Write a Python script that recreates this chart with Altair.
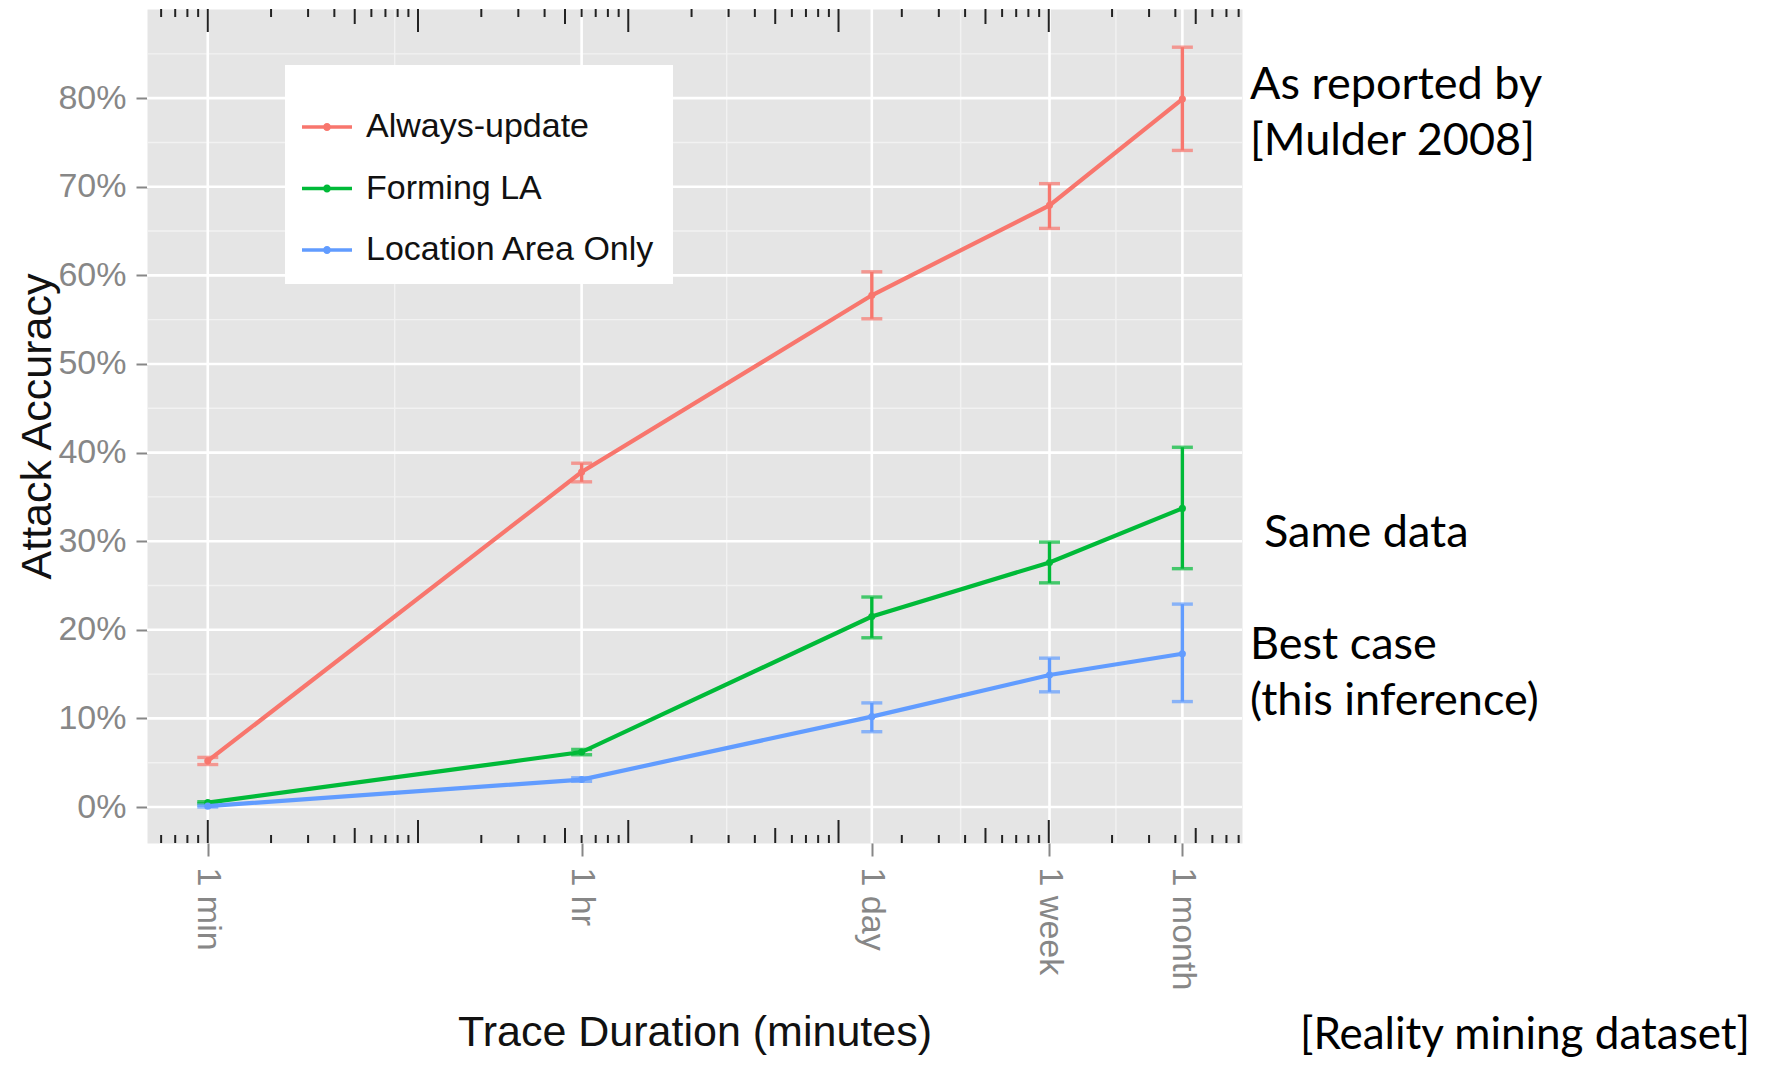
import altair as alt
import pandas as pd

# ---------------- data ----------------
series = ["Always-update", "Forming LA", "Location Area Only"]
colors = ["#F8766D", "#00BA38", "#619CFF"]

minutes = [1, 60, 1440, 10080, 43200]
duration_labels = ["1 min", "1 hr", "1 day", "1 week", "1 month"]

always_acc = [0.052, 0.378, 0.5775, 0.679, 0.799]
always_lo = [0.048, 0.367, 0.551, 0.653, 0.741]
always_hi = [0.056, 0.388, 0.604, 0.7035, 0.8575]

forming_acc = [0.005, 0.062, 0.215, 0.276, 0.337]
forming_lo = [0.004, 0.059, 0.191, 0.253, 0.269]
forming_hi = [0.006, 0.065, 0.237, 0.299, 0.406]

location_acc = [0.001, 0.031, 0.102, 0.149, 0.173]
location_lo = [0.000, 0.029, 0.085, 0.130, 0.119]
location_hi = [0.002, 0.033, 0.1175, 0.168, 0.229]

y_ticks = [0.0, 0.1, 0.2, 0.3, 0.4, 0.5, 0.6, 0.7, 0.8]
y_minor = [0.05, 0.15, 0.25, 0.35, 0.45, 0.55, 0.65, 0.75, 0.85]
x_minor = [7.746, 293.9, 3810, 20867]

logtick_long = [1, 10, 100, 1000, 10000]
logtick_mid = [5, 50, 500, 5000, 50000]
logtick_short = [0.6, 0.7, 0.8, 0.9,
                 2, 3, 4, 6, 7, 8, 9,
                 20, 30, 40, 60, 70, 80, 90,
                 200, 300, 400, 600, 700, 800, 900,
                 2000, 3000, 4000, 6000, 7000, 8000, 9000,
                 20000, 30000, 40000, 60000, 70000, 80000]

# ---------------- tables ----------------
rows = []
for name, acc, lo, hi in [
    (series[0], always_acc, always_lo, always_hi),
    (series[1], forming_acc, forming_lo, forming_hi),
    (series[2], location_acc, location_lo, location_hi),
]:
    for m, a, l, h in zip(minutes, acc, lo, hi):
        rows.append({"series": name, "minutes": m, "acc": a, "lo": l, "hi": h})
df = pd.DataFrame(rows)

W, H = 1095, 834
X_DOMAIN = [0.514, 83000]
Y_DOMAIN = [-0.0406, 0.9006]

xs = alt.Scale(type="log", domain=X_DOMAIN, nice=False, zero=False)
ys = alt.Scale(domain=Y_DOMAIN, nice=False, zero=False)
cs = alt.Scale(domain=series, range=colors)

label_expr = " : ".join(
    f"datum.value == {m} ? '{t}'" for m, t in zip(minutes, duration_labels)
) + " : ''"

AXIS_FONT = "Liberation Sans"
GREY = "#878787"

# ---------------- grid ----------------
minor_v = alt.Chart(pd.DataFrame({"v": x_minor})).mark_rule(
    color="#F2F2F2", strokeWidth=1.4
).encode(x=alt.X("v:Q", scale=xs, axis=None), y=alt.value(0), y2=alt.value(H))

minor_h = alt.Chart(pd.DataFrame({"v": y_minor})).mark_rule(
    color="#F2F2F2", strokeWidth=1.4
).encode(y=alt.Y("v:Q", scale=ys, axis=None), x=alt.value(0), x2=alt.value(W))

major_v = alt.Chart(pd.DataFrame({"v": minutes})).mark_rule(
    color="white", strokeWidth=2.6
).encode(x=alt.X("v:Q", scale=xs, axis=None), y=alt.value(0), y2=alt.value(H))

major_h = alt.Chart(pd.DataFrame({"v": y_ticks})).mark_rule(
    color="white", strokeWidth=2.6
).encode(y=alt.Y("v:Q", scale=ys, axis=None), x=alt.value(0), x2=alt.value(W))


# ---------------- log ticks (top & bottom, inside panel) ----------------
def logticks(values, length):
    d = pd.DataFrame({"v": values})
    top = alt.Chart(d).mark_rule(color="#222222", strokeWidth=2).encode(
        x=alt.X("v:Q", scale=xs, axis=None), y=alt.value(0), y2=alt.value(length)
    )
    bot = alt.Chart(d).mark_rule(color="#222222", strokeWidth=2).encode(
        x=alt.X("v:Q", scale=xs, axis=None), y=alt.value(H), y2=alt.value(H - length)
    )
    return [top, bot]


ticks_layers = logticks(logtick_long, 23) + logticks(logtick_mid, 15) + logticks(logtick_short, 8)

# ---------------- data layers ----------------
base = alt.Chart(df)

errbars = base.mark_errorbar(ticks=True, size=21, thickness=3.4).encode(
    x=alt.X("minutes:Q", scale=xs, axis=None),
    y=alt.Y("lo:Q", scale=ys, axis=None),
    y2="hi:Q",
    color=alt.Color("series:N", scale=cs, legend=None),
)

lines = base.mark_line(strokeWidth=4.2).encode(
    x=alt.X(
        "minutes:Q",
        scale=xs,
        title="Trace Duration (minutes)",
        axis=alt.Axis(
            values=minutes,
            labelExpr=label_expr,
            grid=False,
            domain=False,
            tickColor=GREY,
            tickWidth=2,
            tickSize=13,
            labelAngle=90,
            labelAlign="left",
            labelBaseline="middle",
            labelPadding=11,
            labelFont=AXIS_FONT,
            labelFontSize=34,
            labelColor=GREY,
            labelFlush=False,
            labelOverlap=False,
            titleFont=AXIS_FONT,
            titleFontSize=43,
            titleFontWeight="normal",
            titleColor="#111111",
            titleBaseline="alphabetic",
            titleY=202,
        ),
    ),
    y=alt.Y(
        "acc:Q",
        scale=ys,
        title="Attack Accuracy",
        axis=alt.Axis(
            values=y_ticks,
            format=".0%",
            grid=False,
            domain=False,
            tickColor=GREY,
            tickWidth=2,
            tickSize=11,
            labelPadding=10,
            labelFont=AXIS_FONT,
            labelFontSize=34,
            labelColor=GREY,
            labelFlush=False,
            labelOverlap=False,
            titleFont=AXIS_FONT,
            titleFontSize=43,
            titleFontWeight="normal",
            titleColor="#111111",
            titleAngle=270,
            titleBaseline="alphabetic",
            titleAlign="center",
            titleX=-97,
            titleY=H / 2,
        ),
    ),
    color=alt.Color("series:N", scale=cs, legend=None),
)

LEGEND_SYMBOL = (
    "M-1,-0.07L1,-0.07L1,0.07L-1,0.07Z "
    "M0.16,0A0.16,0.16 0 1 1 -0.16,0A0.16,0.16 0 1 1 0.16,0Z"
)

points = base.mark_point(filled=True, size=50, opacity=1).encode(
    x=alt.X("minutes:Q", scale=xs, axis=None),
    y=alt.Y("acc:Q", scale=ys, axis=None),
    color=alt.Color(
        "series:N",
        scale=cs,
        legend=alt.Legend(
            title=" ",
            titleFontSize=4,
            titlePadding=16,
            orient="none",
            legendX=138,
            legendY=56,
            fillColor="white",
            padding=17,
            labelFont=AXIS_FONT,
            labelFontSize=34,
            labelColor="#111111",
            labelLimit=500,
            symbolType=LEGEND_SYMBOL,
            symbolSize=2500,
            symbolStrokeWidth=0,
            symbolOffset=0,
            labelOffset=14,
            rowPadding=19.5,
        ),
    ),
)

# ---------------- annotations ----------------
ann = pd.DataFrame({"k": [0]})
ANN_FONT = "Lato"


def note(text, x, y, size=45, align="left"):
    return alt.Chart(ann).mark_text(
        font=ANN_FONT, fontSize=size, align=align, baseline="alphabetic",
        color="#000000", lineHeight=56,
    ).encode(x=alt.value(x), y=alt.value(y), text=alt.value(text))


notes = [
    note(["As reported by", "[Mulder 2008]"], 1103, 89.5),
    note("Same data", 1117, 537.5),
    note(["Best case", "(this inference)"], 1103, 649.5),
    note("[Reality mining dataset]", 1603, 1040, size=44, align="right"),
]

chart = alt.layer(
    minor_v, minor_h, major_v, major_h, *ticks_layers, errbars, lines, points, *notes
).resolve_axis(
    x="independent", y="independent"
).resolve_legend(
    color="independent"
).properties(
    width=W,
    height=H,
    autosize=alt.AutoSizeParams(type="none"),
    padding={"left": 139, "top": 1, "right": 512, "bottom": 215},
).configure_view(fill="#E5E5E5", stroke="transparent")

chart.save("out.html", embed_options={"renderer": "svg", "actions": False})
